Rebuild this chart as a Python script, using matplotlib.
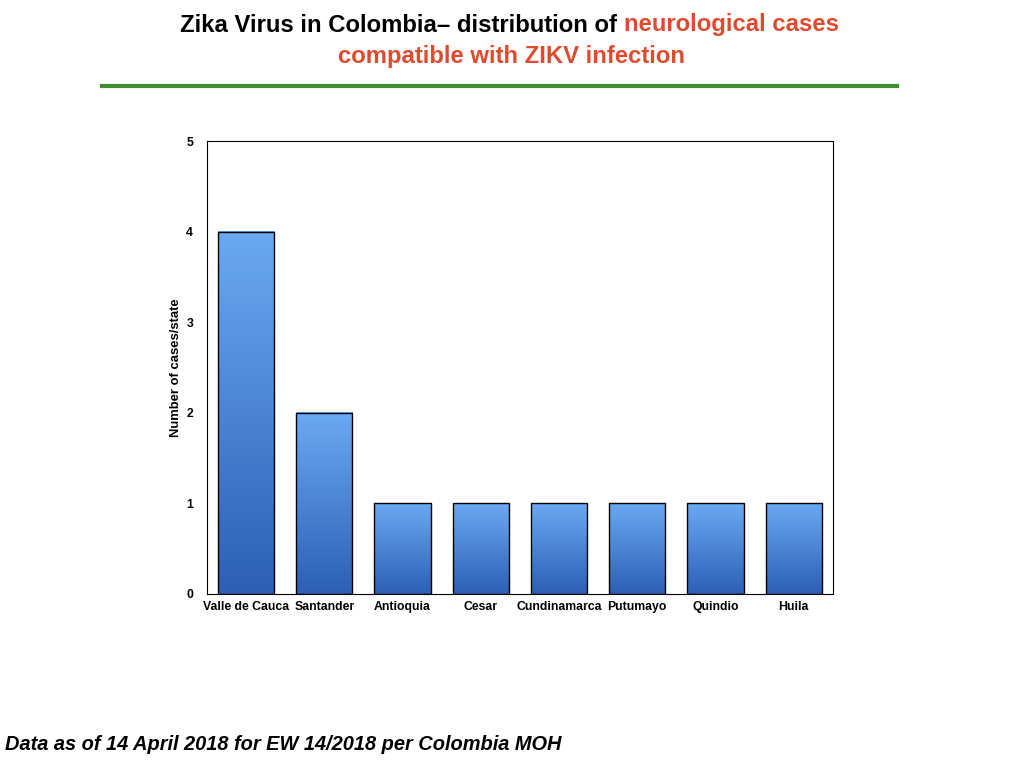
import numpy as np
import matplotlib
matplotlib.use("Agg")
import matplotlib.pyplot as plt
from matplotlib.colors import LinearSegmentedColormap

states = ["Valle de Cauca", "Santander", "Antioquia", "Cesar", "Cundinamarca",
          "Putumayo", "Quindio", "Huila"]
cases = [4, 2, 1, 1, 1, 1, 1, 1]
y_ticks = [0, 1, 2, 3, 4, 5]

plt.rcParams['font.family'] = ['Liberation Sans', 'DejaVu Sans']

fig = plt.figure(figsize=(10.24, 7.68), dpi=100)
ax = fig.add_axes([0.2021, 0.2266, 0.6113, 0.5898])

x = np.arange(len(states))
bars = ax.bar(x, cases, width=0.72, color='none', edgecolor='black', linewidth=1, zorder=3)

# vertical gradient inside each bar: light on top, darker at bottom
cmap = LinearSegmentedColormap.from_list("blu", ["#2c5fb5", "#6aaaf2"])
grad = np.linspace(0, 1, 256).reshape(-1, 1)
for b in bars:
    x0, w, h = b.get_x(), b.get_width(), b.get_height()
    ax.imshow(grad, cmap=cmap, origin='lower', aspect='auto',
              extent=[x0, x0 + w, 0, h], zorder=2)

ax.set_xlim(-0.5, len(states) - 0.5)
ax.set_ylim(0, 5)
ax.set_yticks(y_ticks)
ax.set_yticklabels([str(t) for t in y_ticks], fontsize=8.8, fontweight='bold')
ax.set_xticks(x)
ax.set_xticklabels(states, fontsize=8.8, fontweight='bold')
ax.tick_params(axis='y', length=0, pad=10)
ax.tick_params(axis='x', length=0, pad=5)
ax.set_ylabel("Number of cases/state", fontsize=9.4, fontweight='bold', labelpad=3)
for s in ax.spines.values():
    s.set_linewidth(0.8)

# title, two colours on the first line
fig.canvas.draw()
r = fig.canvas.get_renderer()
fs = 17.2
t1 = fig.text(180 / 1024, 1 - 25 / 768, "Zika Virus in Colombia\u2013 distribution of ",
              fontsize=fs, fontweight='bold', color='black', va='center', ha='left')
bb = t1.get_window_extent(r)
fig.text(bb.x1 / 1024, 1 - 25 / 768, "neurological cases", fontsize=fs,
         fontweight='bold', color='#e04a2f', va='center', ha='left')
fig.text(512 / 1024, 1 - 57 / 768, "compatible with ZIKV infection", fontsize=fs,
         fontweight='bold', color='#e04a2f', va='center', ha='center')

fig.add_artist(plt.Line2D([102 / 1024, 897 / 1024], [1 - 86 / 768, 1 - 86 / 768],
                          color='#3e8e2e', linewidth=3))

fig.text(5 / 1024, 1 - 745 / 768, "Data as of 14 April 2018 for EW 14/2018 per Colombia MOH",
         fontsize=14.4, fontweight='bold', style='italic', va='center', ha='left')

fig.savefig("out.png", dpi=100)
